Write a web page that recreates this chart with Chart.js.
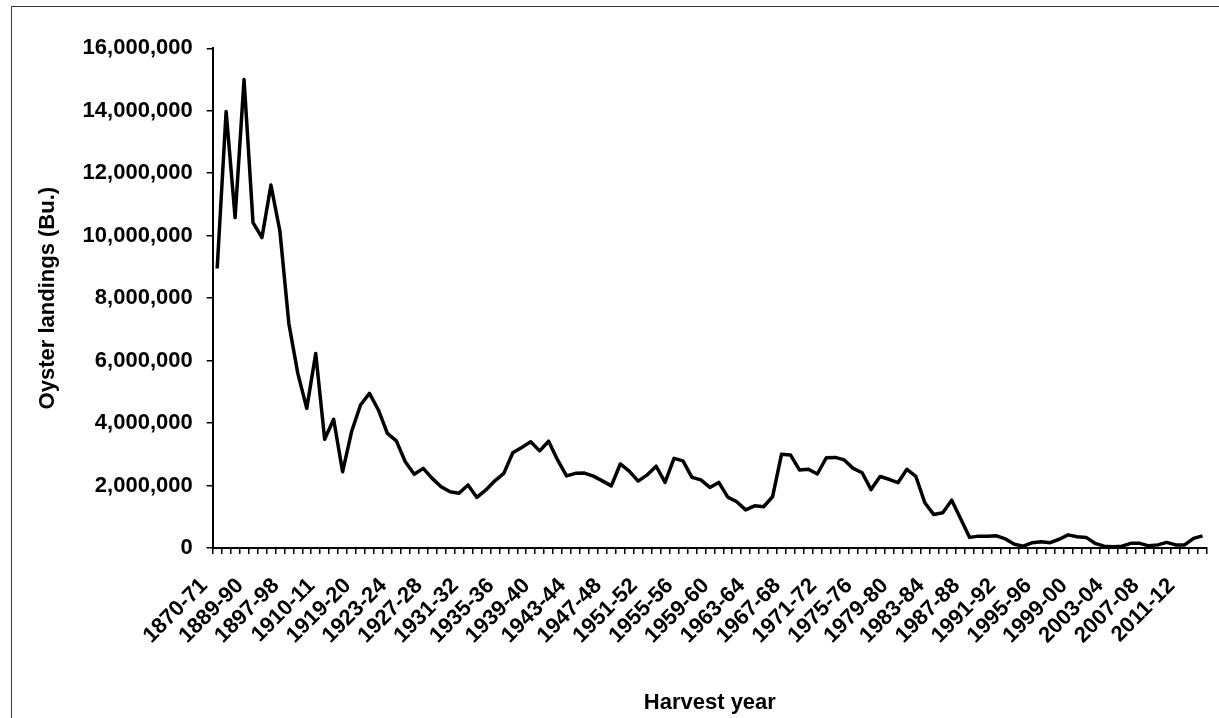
<!DOCTYPE html>
<html>
<head>
<meta charset="utf-8">
<script src="https://cdn.jsdelivr.net/npm/chart.js@4"></script>
<style>
  html, body { margin: 0; padding: 0; background: #fff; overflow: hidden; }
  #wrap { position: relative; width: 1219px; height: 718px; overflow: hidden; }
  #frame { position: absolute; left: 11px; top: 6px; width: 1300px; height: 740px; border: 1px solid #3a3a3a; box-sizing: border-box; }
  canvas { position: absolute; left: 0; top: 0; }
</style>
</head>
<body>
<div id="wrap">
  <div id="frame"></div>
  <canvas id="c" width="1219" height="718"></canvas>
</div>
<script>
// Harvest years (categories); early record has gaps
const harvestYears = [
  '1870-71','1874-75','1879-80','1884-85','1889-90','1890-91','1891-92','1896-97',
  '1897-98','1901-02','1904-05','1906-07','1910-11','1911-12','1912-13','1915-16'
];
for (let y = 1919; y <= 2013; y++) {
  harvestYears.push(y + '-' + String((y + 1) % 100).padStart(2, '0'));
}

// Oyster landings (bushels)
const landings = [
  8950000, 13980000, 10580000, 15000000, 10420000, 9940000, 11620000, 10150000,
  7190000, 5590000, 4470000, 6230000, 3480000, 4120000, 2440000, 3720000,
  4580000, 4950000, 4420000, 3670000, 3430000, 2760000, 2360000, 2550000,
  2230000, 1960000, 1800000, 1750000, 2020000, 1620000, 1860000, 2150000,
  2390000, 3050000, 3220000, 3400000, 3110000, 3420000, 2820000, 2310000,
  2390000, 2400000, 2300000, 2150000, 1990000, 2690000, 2460000, 2140000,
  2340000, 2620000, 2100000, 2870000, 2790000, 2260000, 2180000, 1940000,
  2100000, 1630000, 1480000, 1220000, 1350000, 1320000, 1640000, 3000000,
  2980000, 2500000, 2520000, 2370000, 2890000, 2900000, 2820000, 2550000,
  2410000, 1870000, 2290000, 2200000, 2090000, 2520000, 2290000, 1450000,
  1070000, 1130000, 1530000, 940000, 340000, 380000, 380000, 390000,
  290000, 120000, 60000, 170000, 200000, 170000, 280000, 420000,
  360000, 340000, 150000, 60000, 40000, 60000, 150000, 150000,
  70000, 100000, 180000, 100000, 100000, 310000, 390000
];

const yTicksMin = 0;
const yTicksMax = 16000000;
const yTickStep = 2000000;
const labelEvery = 4;

const FONT = "'Liberation Sans', Arial, Helvetica, sans-serif";
const tickFont = { family: FONT, size: 22, weight: 'bold' };
const titleFont = { family: FONT, size: 22, weight: 'bold' };

new Chart(document.getElementById('c'), {
  type: 'line',
  data: {
    labels: harvestYears,
    datasets: [{
      data: landings,
      borderColor: '#000',
      borderWidth: 3.5,
      pointRadius: 0,
      tension: 0,
      fill: false,
      borderJoinStyle: 'round'
    }]
  },
  options: {
    responsive: false,
    animation: false,
    devicePixelRatio: 1,
    layout: { padding: { left: 12.7, right: 12, top: 48.3, bottom: 0 } },
    plugins: { legend: { display: false }, tooltip: { enabled: false } },
    scales: {
      x: {
        type: 'category',
        offset: true,
        grid: { offset: true, drawOnChartArea: false, drawTicks: true, tickLength: 6, color: '#000', lineWidth: 1.5 },
        border: { display: true, color: '#000', width: 2 },
        ticks: {
          autoSkip: false,
          maxRotation: 45,
          minRotation: 45,
          padding: 19,
          labelOffset: -13,
          color: '#000',
          font: tickFont,
          callback: (v, i) => (i % labelEvery === 0 ? harvestYears[i] : '')
        },
        title: { display: true, text: 'Harvest year', color: '#000', font: titleFont, padding: { top: 0, bottom: 2 } },
        afterFit: s => { s.height = 170; s.paddingLeft = 0; s.paddingRight = 0; }
      },
      y: {
        min: yTicksMin,
        max: yTicksMax,
        grid: { drawOnChartArea: false, drawTicks: true, tickLength: 6, color: '#000', lineWidth: 1.5 },
        border: { display: true, color: '#000', width: 2 },
        ticks: {
          stepSize: yTickStep,
          padding: 14,
          color: '#000',
          font: tickFont,
          callback: v => Number(v).toLocaleString('en-US')
        },
        title: { display: true, text: 'Oyster landings (Bu.)', color: '#000', font: titleFont, padding: { top: 22, bottom: 0 } },
        afterFit: s => { s.width = 200; s.paddingTop = 0; s.paddingBottom = 0; }
      }
    }
  }
});
</script>
</body>
</html>
